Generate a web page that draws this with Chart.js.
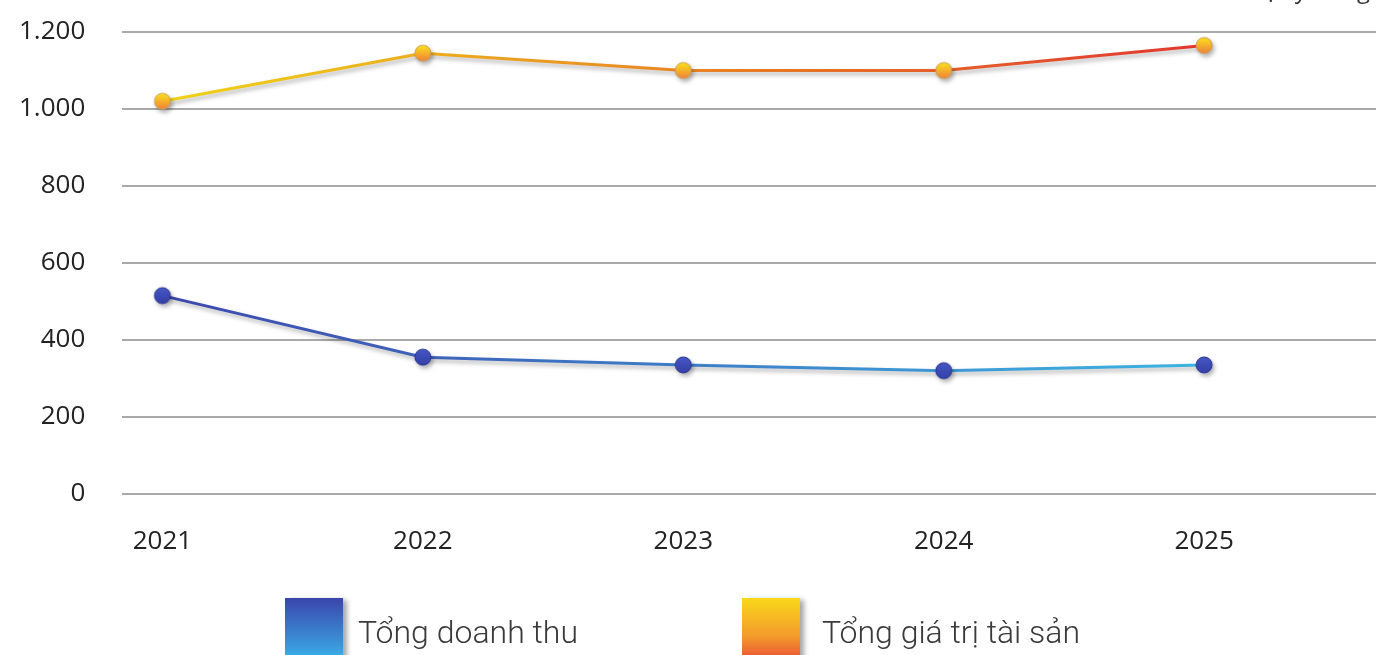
<!DOCTYPE html>
<html>
<head>
<meta charset="utf-8">
<script src="https://cdn.jsdelivr.net/npm/chart.js@4/dist/chart.umd.min.js"></script>
<style>
    body { margin: 0; background: #fff; }
    #wrap { position: relative; width: 1376px; height: 655px; overflow: hidden; }
    #unit { position: absolute; top: -28px; right: 6px; font: 24px "Open Sans", sans-serif; color: #333; }
    .legend-item { position: absolute; top: 598px; display: flex; align-items: flex-start; }
    .legend-box { width: 58px; height: 70px; box-shadow: 4px 2px 5px rgba(0,0,0,0.35); }
    .legend-text { font: 300 32px Roboto, sans-serif; color: #3a3a3a; margin-left: 15px; margin-top: 15px; }
</style>
</head>
<body>
<div id="wrap">
    <canvas id="chart" width="1376" height="655"></canvas>
    <div id="unit">Đơn vị: tỷ đồng</div>
    <div class="legend-item" style="left:285px">
        <div class="legend-box" style="background:linear-gradient(#3a45ad, #3aa0e0 75%, #3ad6f8)"></div>
        <div class="legend-text">Tổng doanh thu</div>
    </div>
    <div class="legend-item" style="left:742px">
        <div class="legend-box" style="background:linear-gradient(#f9d81a, #f39a2c 55%, #e8373a)"></div>
        <div class="legend-text" style="margin-left:22px">Tổng giá trị tài sản</div>
    </div>
</div>
<script>
const years = [2021, 2022, 2023, 2024, 2025];
const doanhThu = [515, 355, 335, 320, 335];
const taiSan = [1020, 1145, 1100, 1100, 1165];
const yTicks = [0, 200, 400, 600, 800, 1000, 1200];

function makeDot(top, bottom, border) {
    const c = document.createElement("canvas");
    c.width = 22;
    c.height = 22;
    const g = c.getContext("2d");
    const grad = g.createLinearGradient(0, 3, 0, 19);
    grad.addColorStop(0, top);
    grad.addColorStop(1, bottom);
    g.beginPath();
    g.arc(11, 11, 8, 0, Math.PI * 2);
    g.fillStyle = grad;
    g.fill();
    g.lineWidth = 1;
    g.strokeStyle = border;
    g.stroke();
    return c;
}

function hGradient(ctx, from, to) {
    const chart = ctx.chart;
    const area = chart.chartArea;
    if (!area) return from;
    const grad = chart.ctx.createLinearGradient(area.left + 40, 0, area.left + 1080, 0);
    grad.addColorStop(0, from);
    grad.addColorStop(1, to);
    return grad;
}

// chart.js counts tick padding twice and adds label overhang; undo that
function fitX(scale) {
    scale.paddingLeft = 0;
    scale.paddingRight = 0;
    scale.height -= scale.options.ticks.padding;
}
function fitY(scale) {
    scale.paddingTop = 0;
    scale.paddingBottom = 0;
    scale.width -= scale.options.ticks.padding;
}

const shadowPlugin = {
    id: "shadow",
    beforeDatasetDraw(chart) {
        const c = chart.ctx;
        c.save();
        c.shadowColor = "rgba(0,0,0,0.3)";
        c.shadowBlur = 4;
        c.shadowOffsetX = 2;
        c.shadowOffsetY = 3;
    },
    afterDatasetDraw(chart) {
        chart.ctx.restore();
    },
};

new Chart(document.getElementById("chart").getContext("2d"), {
    type: "line",
    data: {
        datasets: [
            {
                label: "Tổng giá trị tài sản",
                data: years.map((y, i) => ({ x: y, y: taiSan[i] })),
                borderColor: (ctx) => hGradient(ctx, "#f0d416", "#e2372f"),
                borderWidth: 3,
                pointStyle: makeDot("#fbe21a", "#f0803a", "#c9a05a"),
                pointRadius: 9,
                tension: 0,
            },
            {
                label: "Tổng doanh thu",
                data: years.map((y, i) => ({ x: y, y: doanhThu[i] })),
                borderColor: (ctx) => hGradient(ctx, "#3e48ad", "#3cb4e2"),
                borderWidth: 3,
                pointStyle: makeDot("#4656c4", "#3340a6", "#2c3590"),
                pointRadius: 9,
                tension: 0,
            },
        ],
    },
    options: {
        responsive: false,
        animation: false,
        layout: {
            autoPadding: false,
            padding: { left: 19, right: 0, top: 32, bottom: 98 },
        },
        plugins: {
            legend: { display: false },
            tooltip: { enabled: false },
        },
        scales: {
            x: {
                type: "linear",
                min: 2020.846,
                max: 2025.66,
                afterBuildTicks: (scale) => {
                    scale.ticks = years.map((v) => ({ value: v }));
                },
                afterFit: fitX,
                grid: { display: false },
                border: { display: false },
                ticks: {
                    padding: 24,
                    color: "#222",
                    font: { family: "'Open Sans', sans-serif", size: 26 },
                    callback: (v) => String(v),
                },
            },
            y: {
                min: 0,
                max: 1200,
                afterBuildTicks: (scale) => {
                    scale.ticks = yTicks.map((v) => ({ value: v }));
                },
                afterFit: fitY,
                grid: { color: "#a9a9a9", lineWidth: 2, drawTicks: false },
                border: { display: false },
                ticks: {
                    padding: 37,
                    color: "#222",
                    font: { family: "'Open Sans', sans-serif", size: 26 },
                    callback: (v) => v.toLocaleString("de-DE"),
                },
            },
        },
    },
    plugins: [shadowPlugin],
});
</script>
</body>
</html>
